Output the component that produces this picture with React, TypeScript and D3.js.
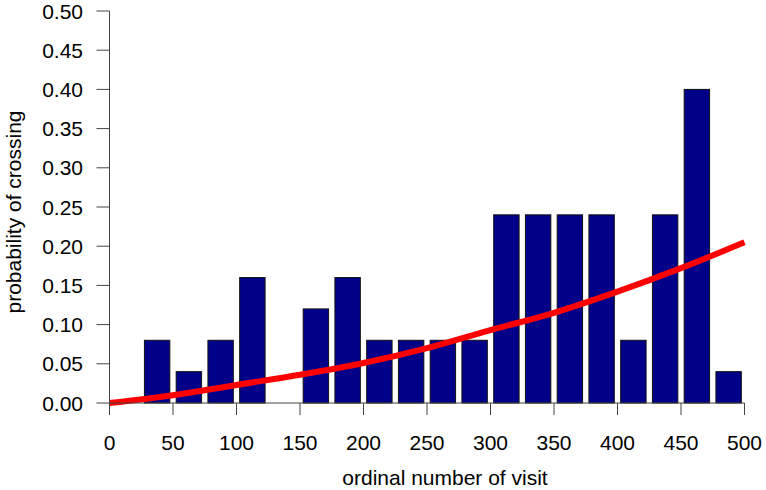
import React from "react";
import * as d3 from "d3";

const binStarts = [0, 25, 50, 75, 100, 125, 150, 175, 200, 225, 250, 275, 300, 325, 350, 375, 400, 425, 450, 475];
const binValues = [0, 0.08, 0.04, 0.08, 0.16, 0, 0.12, 0.16, 0.08, 0.08, 0.08, 0.08, 0.24, 0.24, 0.24, 0.24, 0.08, 0.24, 0.40, 0.04];

const curveX = [0, 50, 100, 150, 200, 250, 300, 350, 400, 450, 500];
const curveY = [0, 0.010, 0.023, 0.036, 0.051, 0.070, 0.093, 0.115, 0.142, 0.172, 0.205];

const xTicks = [0, 50, 100, 150, 200, 250, 300, 350, 400, 450, 500];
const yTicks = [0, 0.05, 0.1, 0.15, 0.2, 0.25, 0.3, 0.35, 0.4, 0.45, 0.5];

const W = 766;
const H = 490;
const FONT = "'Liberation Sans', Arial, sans-serif";

export default function App() {
  const x = d3.scaleLinear().domain([0, 500]).range([109.5, 744.5]);
  const y = d3.scaleLinear().domain([0, 0.5]).range([403, 11]);
  const band = d3
    .scaleBand<number>()
    .domain(binStarts)
    .range([x(0), x(500)])
    .paddingInner(0.2)
    .paddingOuter(0.1);

  const line = d3
    .line<number>()
    .x((_, i) => x(curveX[i]))
    .y((d) => y(d))
    .curve(d3.curveMonotoneX);

  const axisColor = "#444";

  return (
    <svg
      width={W}
      height={H}
      style={{ position: "absolute", left: 0, top: 0, background: "#fff" }}
      fontFamily={FONT}
    >
      {binStarts.map((s, i) =>
        binValues[i] > 0 ? (
          <rect
            key={s}
            x={band(s)!}
            y={y(binValues[i])}
            width={band.bandwidth()}
            height={y(0) - y(binValues[i])}
            fill="#000088"
            stroke="#111"
            strokeWidth={1}
          />
        ) : null
      )}
      <path d={line(curveY) || ""} fill="none" stroke="#ff0000" strokeWidth={6} strokeLinecap="butt" />

      <line x1={x(0)} x2={x(0)} y1={y(0.5)} y2={y(0) + 12} stroke={axisColor} strokeWidth={1} />
      {yTicks.map((t) => (
        <g key={t}>
          <line x1={x(0) - 13} x2={x(0)} y1={y(t)} y2={y(t)} stroke={axisColor} strokeWidth={1} />
          <text x={83} y={y(t)} dy="0.36em" textAnchor="end" fontSize={21} fill="#000">
            {t.toFixed(2)}
          </text>
        </g>
      ))}

      <line x1={x(0)} x2={x(500)} y1={y(0)} y2={y(0)} stroke={axisColor} strokeWidth={1} />
      {xTicks.map((t) => (
        <g key={t}>
          <line x1={x(t)} x2={x(t)} y1={y(0)} y2={y(0) + 12} stroke={axisColor} strokeWidth={1} />
          <text x={x(t)} y={450} textAnchor="middle" fontSize={21} fill="#000">
            {t}
          </text>
        </g>
      ))}

      <text x={445} y={485} textAnchor="middle" fontSize={21} fill="#000">
        ordinal number of visit
      </text>
      <text
        transform={`translate(21, 212) rotate(-90)`}
        textAnchor="middle"
        fontSize={21}
        fill="#000"
      >
        probability of crossing
      </text>
    </svg>
  );
}
